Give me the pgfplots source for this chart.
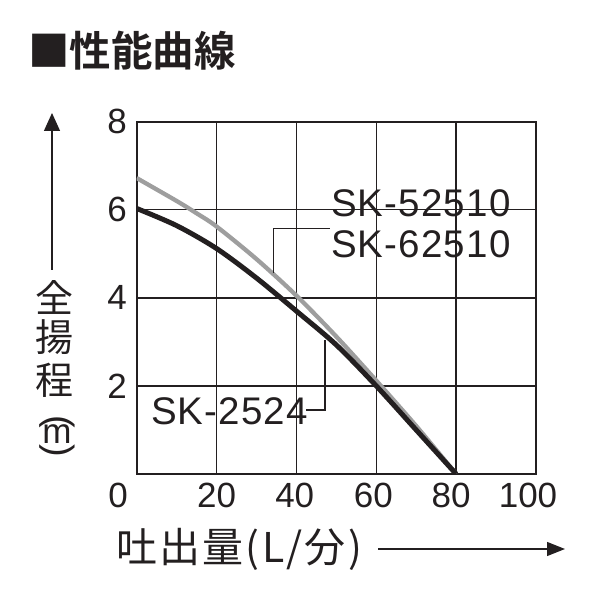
\documentclass[border=0pt]{standalone}
\usepackage{fontspec}
\setmainfont{Liberation Sans}
\newfontfamily\lab{Liberation Sans}[LetterSpace=3]
\newfontfamily\jp{Noto Sans CJK JP}
\newfontfamily\jpx{Noto Sans CJK JP}[LetterSpace=5.5]
\newfontfamily\jpb{Noto Sans CJK JP Bold}
\usepackage{pgfplots}
\pgfplotsset{compat=1.18}
\usetikzlibrary{arrows.meta}
\definecolor{ink}{RGB}{35,31,32}
\definecolor{curvegray}{RGB}{158,158,158}
\begin{document}
\begin{tikzpicture}
\path[use as bounding box] (0pt,0pt) rectangle (600pt,600pt);
\begin{axis}[
  at={(136.7pt,126pt)}, anchor=south west,
  scale only axis, width=399.3pt, height=352.3pt,
  xmin=0, xmax=100, ymin=0, ymax=8,
  xtick={0,20,40,60,80,100},
  xticklabels={{\makebox[0pt]{0}\kern37.4pt},{20},{\makebox[0pt]{40}\kern3.4pt},{\makebox[0pt]{60}\kern6pt},{\makebox[0pt]{80}\kern10pt},{\makebox[0pt]{100}\kern16pt}},
  ytick={2,4,6,8}, yticklabels={2,4,6,8},
  grid=major,
  major grid style={ink, line width=1.3pt},
  axis line style={ink, line width=2pt},
  major tick length=0pt,
  ticklabel style={font=\fontsize{35}{35}\selectfont, text=ink, inner sep=0pt},
  xticklabel style={anchor=north, yshift=-9.3pt},
  yticklabel style={anchor=east, xshift=-9.7pt},
  /pgf/number format/assume math mode=true,
  clip=true,
]
\addplot[curvegray, line width=4.3pt, smooth, tension=0.5] coordinates {
  (0,6.72) (10,6.20) (15,5.92) (20,5.62) (30,4.88) (40,4.05) (50,3.12) (60,2.12) (70,1.09) (80,0)
};
\addplot[ink, line width=5pt, smooth, tension=0.5] coordinates {
  (0,6.03) (10,5.64) (20,5.12) (30,4.45) (40,3.70) (50,2.93) (60,2.00) (70,1.00) (80,0)
};
\end{axis}
% leader lines
\draw[ink, line width=1.2pt] (273.3pt,326.7pt) -- (273.3pt,371.7pt) -- (330pt,371.7pt);
\draw[ink, line width=1.2pt] (325pt,260pt) -- (325pt,190pt) -- (306pt,190pt);
% curve labels
\node[anchor=base west, inner sep=0pt, font=\lab\fontsize{38.5}{38.5}\selectfont, text=ink] at (331pt,383pt) {SK-52510};
\node[anchor=base west, inner sep=0pt, font=\lab\fontsize{38.5}{38.5}\selectfont, text=ink] at (331pt,342pt) {SK-62510};
\node[anchor=base west, inner sep=0pt, font=\lab\fontsize{38.5}{38.5}\selectfont, text=ink] at (151pt,175pt) {SK-2524};
% title
\node[anchor=base west, inner sep=0pt, font=\jpb\fontsize{41.5}{41.5}\selectfont, text=ink] at (28pt,533pt) {■性能曲線};
% y label
\draw[ink, line width=1.3pt, -{Triangle[length=18pt,width=16pt]}] (52pt,330pt) -- (52pt,487pt);
\node[inner sep=0pt, font=\jp\fontsize{38}{38}\selectfont, text=ink] at (54pt,302.5pt) {全};
\node[inner sep=0pt, font=\jp\fontsize{38}{38}\selectfont, text=ink] at (54pt,263pt) {揚};
\node[inner sep=0pt, font=\jp\fontsize{38}{38}\selectfont, text=ink] at (54pt,220pt) {程};
\node[inner sep=0pt, rotate=-90, font=\fontsize{38}{38}\selectfont, text=ink] at (57pt,178pt) {(};
\node[inner sep=0pt, font=\fontsize{35}{35}\selectfont, text=ink] at (57pt,166pt) {m};
\node[inner sep=0pt, rotate=-90, font=\fontsize{38}{38}\selectfont, text=ink] at (57pt,149pt) {)};
% x label
\node[anchor=west, inner sep=0pt, font=\jpx\fontsize{41}{41}\selectfont, text=ink] at (116pt,50.5pt) {吐出量(L/分)};
\draw[ink, line width=1.3pt, -{Triangle[length=18pt,width=14pt]}] (378pt,51pt) -- (565pt,51pt);
\end{tikzpicture}
\end{document}
